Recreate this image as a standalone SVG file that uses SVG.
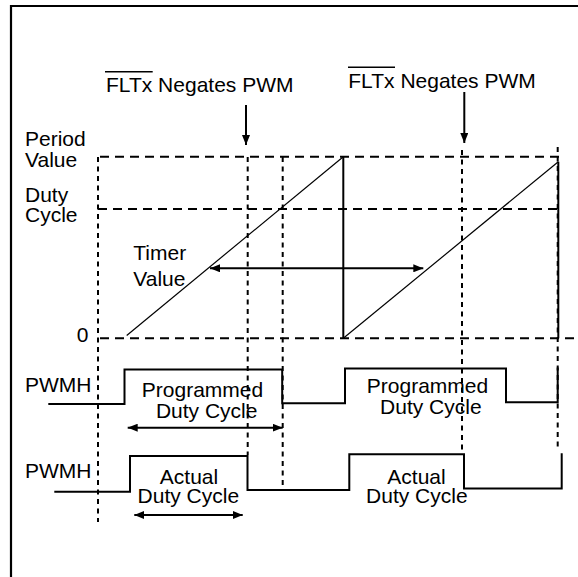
<svg xmlns="http://www.w3.org/2000/svg" width="578" height="577" viewBox="0 0 578 577">
  <style>
    text { font-family: "Liberation Sans", Arial, sans-serif; font-size: 21px; fill: #000; }
    .frame { stroke: #000; stroke-width: 2.2; fill: none; }
    .hd { stroke: #000; stroke-width: 2; stroke-dasharray: 9 6; fill: none; }
    .vd { stroke: #000; stroke-width: 2; stroke-dasharray: 5 4.5; fill: none; }
    .ramp { stroke: #000; stroke-width: 1.2; fill: none; }
    .reset { stroke: #000; stroke-width: 2; fill: none; }
    .wave { stroke: #000; stroke-width: 2; fill: none; stroke-linejoin: miter; }
    .arrow { stroke: #000; stroke-width: 2; fill: none; }
    .bar { stroke: #000; stroke-width: 1.6; }
  </style>
  <defs>
    <marker id="ah" viewBox="0 0 10 8" refX="10" refY="4" markerWidth="10" markerHeight="8" markerUnits="userSpaceOnUse" orient="auto-start-reverse">
      <path d="M0,0 L10,4 L0,8 Z" fill="#000"/>
    </marker>
  </defs>
  <rect width="578" height="577" fill="#fff"/>

  <g id="frame">
    <path class="frame" d="M11,577 V6 H578"/>
  </g>

  <g id="grid">
    <line class="hd" x1="100" y1="156.7" x2="565" y2="156.7"/>
    <line class="hd" x1="98" y1="209" x2="560" y2="209"/>
    <line class="hd" x1="100" y1="338.3" x2="578" y2="338.3"/>
    <line class="vd" x1="98" y1="157" x2="98" y2="522"/>
    <line class="vd" x1="247.7" y1="157" x2="247.7" y2="455"/>
    <line class="vd" x1="282.7" y1="157" x2="282.7" y2="488"/>
    <line class="vd" x1="462" y1="150" x2="462" y2="450"/>
    <line class="vd" x1="557.7" y1="147" x2="557.7" y2="448"/>
  </g>

  <g id="timer">
    <line class="ramp" x1="126.7" y1="335.5" x2="343.3" y2="156.7"/>
    <line class="reset" x1="343.3" y1="156.7" x2="343.3" y2="338.3"/>
    <line class="ramp" x1="343.3" y1="338.3" x2="558.3" y2="161.7"/>
    <line class="reset" x1="558.3" y1="161.7" x2="558.3" y2="338.3"/>
  </g>

  <g id="pwmh-programmed">
    <polyline class="wave" points="48.3,404 124.5,404 124.5,369.5 282.2,369.5 282.2,403.3 345,403.3 345,368.5 506,368.5 506,402.3 557.7,402.3 557.7,367.5"/>
  </g>

  <g id="pwmh-actual">
    <polyline class="wave" points="54.3,491.7 130,491.7 130,456 247.5,456 247.5,490 349.3,490 349.3,454.3 464,454.3 464,488.5 561.7,488.5 561.7,453.3"/>
  </g>

  <g id="labels">
    <g id="fault-label-1">
      <line class="bar" x1="105" y1="71.7" x2="152.7" y2="71.7"/>
      <text x="106" y="92.3">FLTx Negates PWM</text>
    </g>
    <g id="fault-label-2">
      <line class="bar" x1="348" y1="67.3" x2="395" y2="67.3"/>
      <text x="348.3" y="88.3">FLTx Negates PWM</text>
    </g>
    <g id="period-label">
      <text x="25" y="145.7">Period</text>
      <text x="25" y="167.3">Value</text>
    </g>
    <g id="duty-label">
      <text x="25" y="201.7">Duty</text>
      <text x="25" y="222.3">Cycle</text>
    </g>
    <g id="zero-label"><text x="76.7" y="341.7">0</text></g>
    <g id="timer-label">
      <text x="133.3" y="260">Timer</text>
      <text x="133.3" y="286">Value</text>
    </g>
    <g id="pwmh-label-1"><text x="25" y="392.3">PWMH</text></g>
    <g id="pwmh-label-2"><text x="25" y="478.3">PWMH</text></g>
    <g id="programmed-1" text-anchor="middle">
      <text x="202.5" y="397.3">Programmed</text>
      <text x="206.7" y="418.3">Duty Cycle</text>
    </g>
    <g id="programmed-2" text-anchor="middle">
      <text x="427.5" y="393.3">Programmed</text>
      <text x="430.8" y="413.8">Duty Cycle</text>
    </g>
    <g id="actual-1" text-anchor="middle">
      <text x="189" y="483.5">Actual</text>
      <text x="188.3" y="503.3">Duty Cycle</text>
    </g>
    <g id="actual-2" text-anchor="middle">
      <text x="416.5" y="483.8">Actual</text>
      <text x="416.8" y="503.3">Duty Cycle</text>
    </g>
  </g>

  <g id="connectors">
    <line class="arrow" x1="246" y1="105" x2="246" y2="145" marker-end="url(#ah)"/>
    <line class="arrow" x1="464.3" y1="92" x2="464.3" y2="143" marker-end="url(#ah)"/>
    <line class="arrow" x1="210" y1="268.3" x2="423.3" y2="268.3" marker-start="url(#ah)" marker-end="url(#ah)"/>
    <line class="arrow" x1="127.7" y1="427.7" x2="282.7" y2="427.7" marker-start="url(#ah)" marker-end="url(#ah)"/>
    <line class="arrow" x1="134.3" y1="515" x2="242.7" y2="515" marker-start="url(#ah)" marker-end="url(#ah)"/>
  </g>
</svg>
